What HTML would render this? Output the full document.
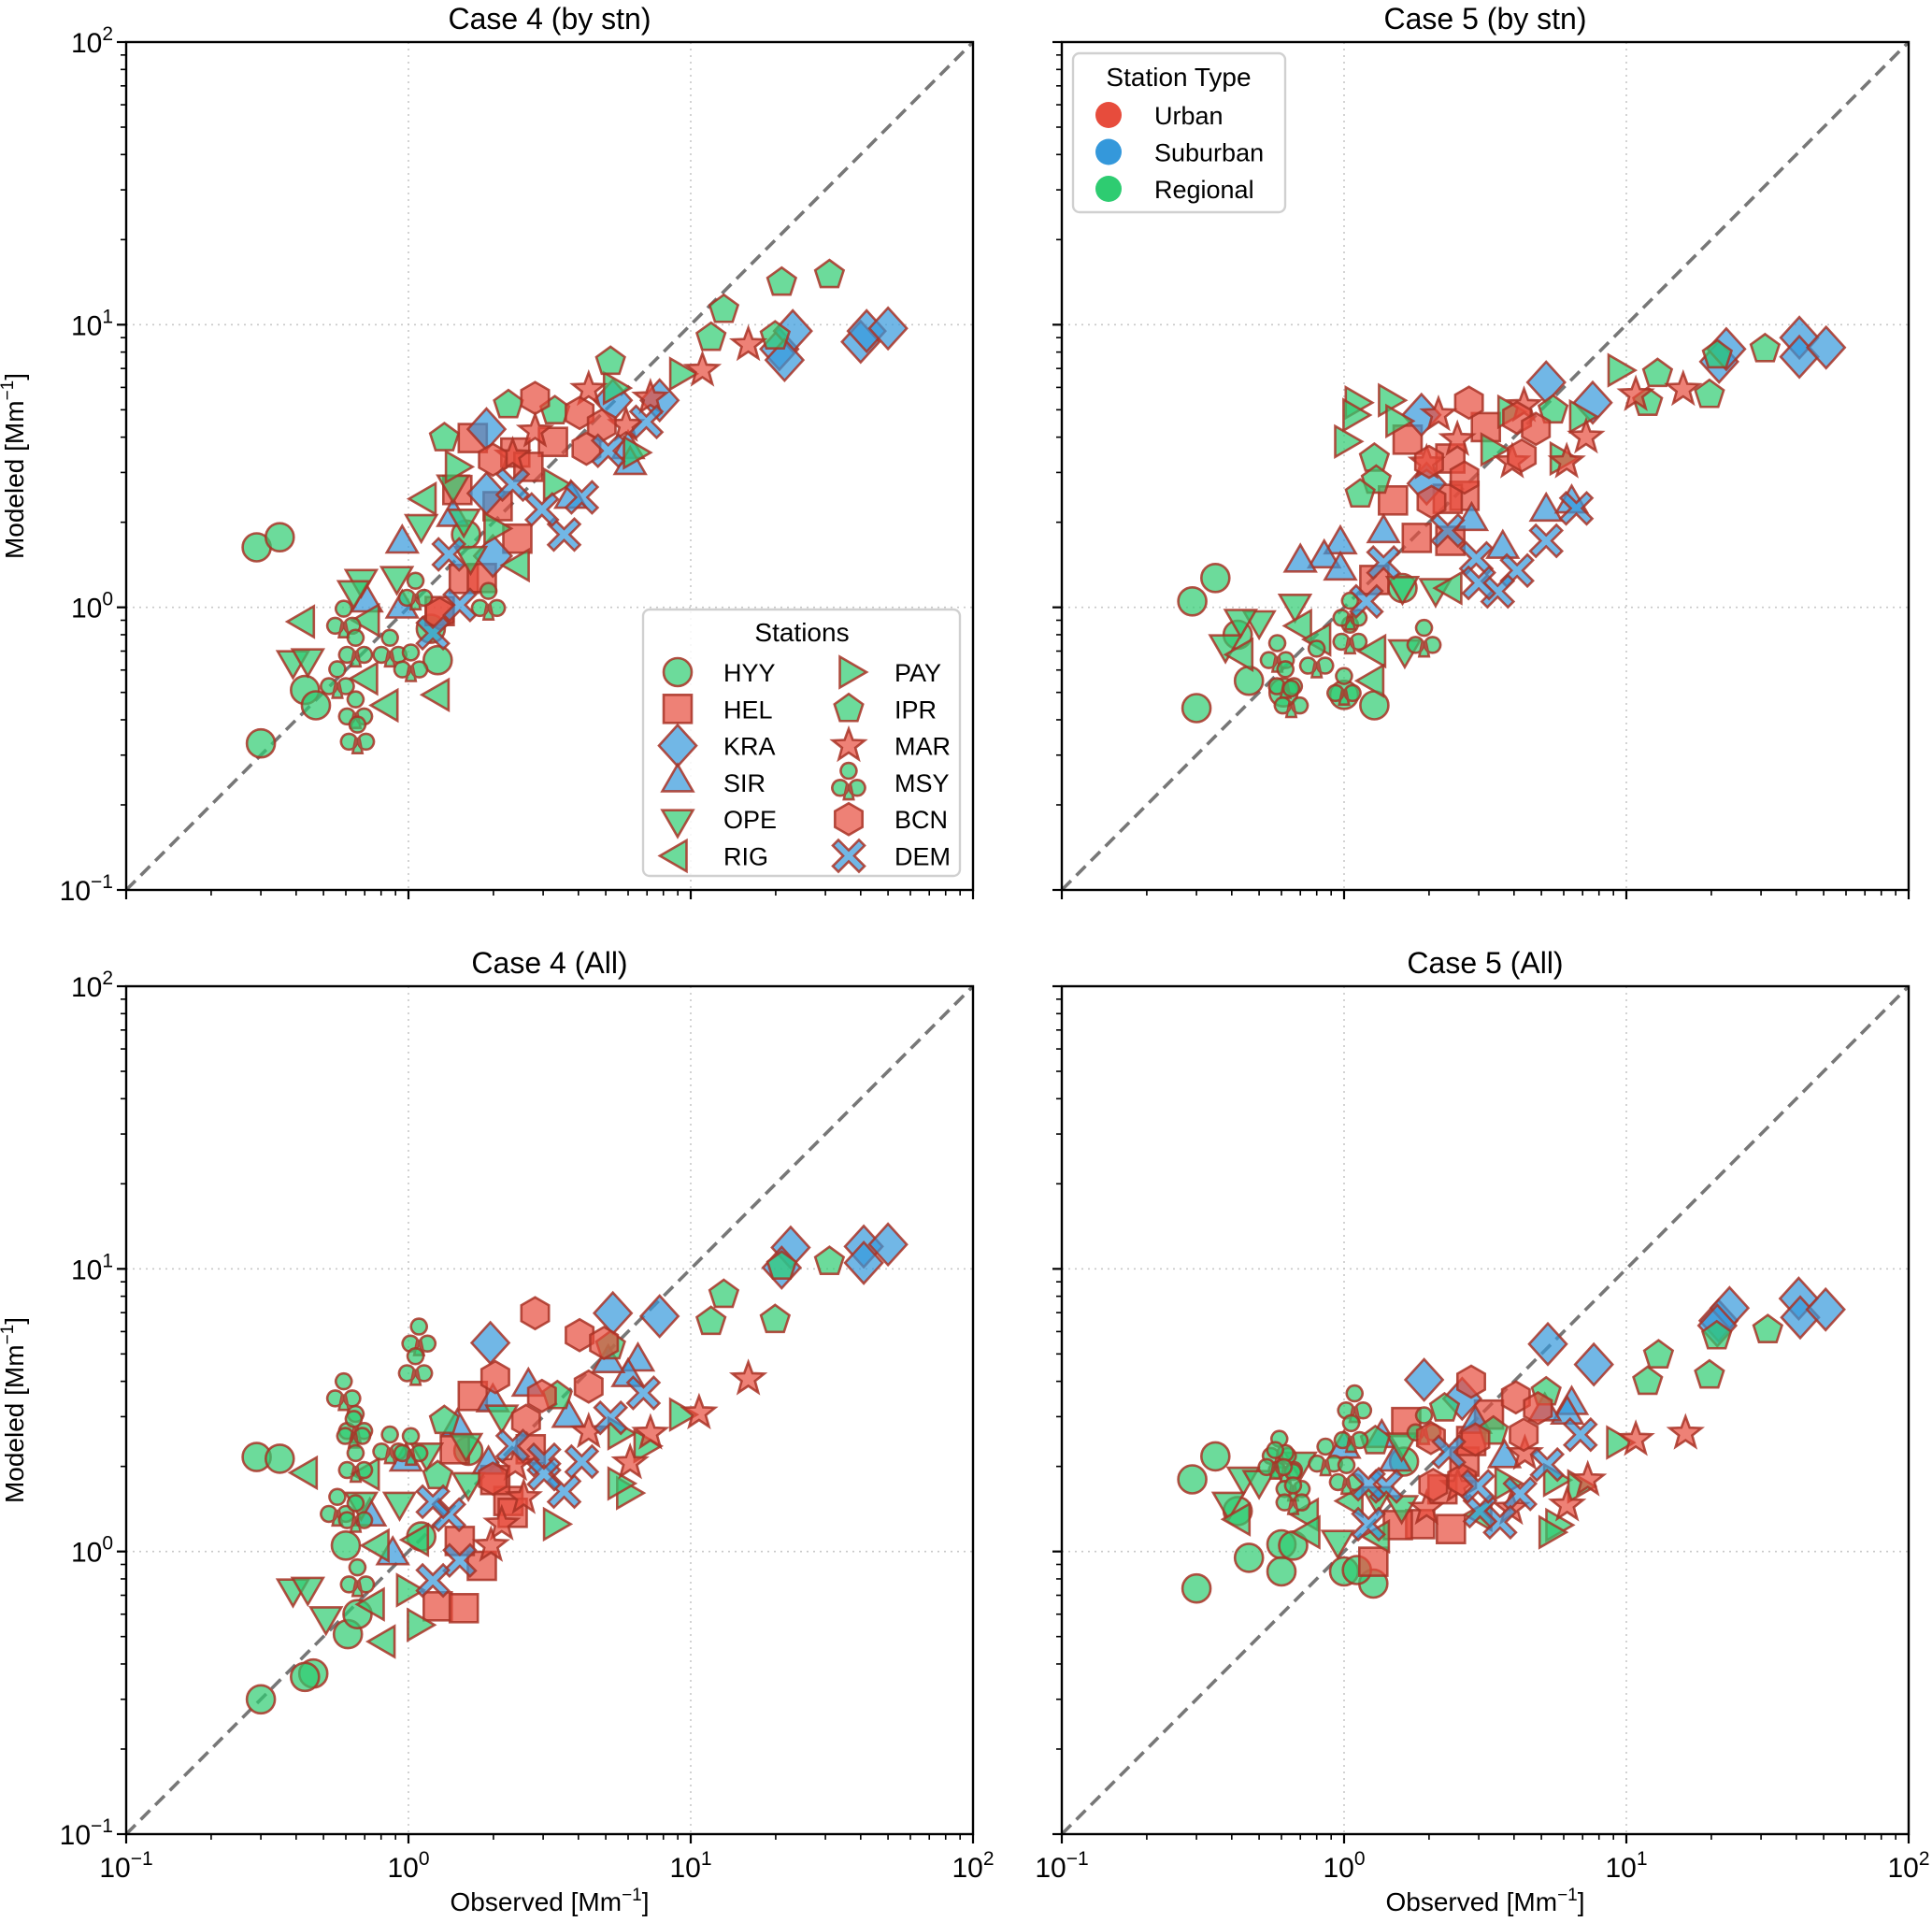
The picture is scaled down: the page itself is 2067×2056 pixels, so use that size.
<!DOCTYPE html>
<html><head><meta charset="utf-8"><title>Modeled vs Observed</title>
<style>
html,body{margin:0;padding:0;background:#fff;}
svg{display:block;font-family:"Liberation Sans","DejaVu Sans",sans-serif;}
</style></head>
<body>
<svg id="fig" width="2067" height="2056" viewBox="0 0 2067 2056" xmlns="http://www.w3.org/2000/svg"></svg>
<script>
// ---- data ----
const stationNames = ["HYY","HEL","KRA","SIR","OPE","RIG","PAY","IPR","MAR","MSY","BCN","DEM"];
const stationTypes = ["Regional","Urban","Suburban","Suburban","Regional","Regional","Regional","Regional","Urban","Regional","Urban","Suburban"];
const stationShapes = ["circle","square","diamond","triup","tridown","trileft","triright","pentagon","star","club","hexagon","x"];
const typeNames = ["Urban","Suburban","Regional"];
const panelTitles = ["Case 4 (by stn)","Case 5 (by stn)","Case 4 (All)","Case 5 (All)"];
const tickExponents = [-1,0,1,2];

const case4StnPoints = [
["HYY",0.29,1.63],["HYY",0.35,1.77],["HYY",0.30,0.33],["HYY",0.43,0.51],["HYY",0.47,0.45],["HYY",1.27,0.65],["HYY",1.6,1.81],["HYY",1.2,0.84],
["HEL",1.69,3.97],["HEL",3.25,3.85],["HEL",2.39,3.53],["HEL",2.43,1.75],["HEL",1.57,1.26],["HEL",1.82,1.27],["HEL",1.29,0.97],["HEL",2.07,2.28],["HEL",1.49,2.6],["HEL",2.66,3.14],
["KRA",1.89,4.27],["KRA",1.99,1.52],["KRA",1.89,2.53],["KRA",5.3,5.4],["KRA",7.76,5.4],["KRA",20.6,8.2],["KRA",23,9.5],["KRA",21.5,7.5],["KRA",40,8.7],["KRA",42,9.5],["KRA",50,9.7],
["SIR",0.71,1.04],["SIR",0.95,1.68],["SIR",6.0,3.63],["SIR",6.1,3.19],["SIR",1.44,2.09],["SIR",3.76,2.42],["SIR",0.95,0.99],
["OPE",0.68,1.26],["OPE",0.64,1.15],["OPE",0.39,0.65],["OPE",0.44,0.66],["OPE",0.91,1.29],["OPE",1.11,1.97],["OPE",1.57,2.06],["OPE",1.66,1.52],["OPE",1.44,2.72],
["RIG",0.43,0.89],["RIG",0.73,0.9],["RIG",0.85,0.45],["RIG",1.29,0.49],["RIG",2.48,1.41],["RIG",1.16,2.42],["RIG",0.72,0.56],
["PAY",1.46,3.14],["PAY",9.1,6.7],["PAY",3.25,2.72],["PAY",5.3,5.97],["PAY",6.24,3.53],["PAY",2.0,1.9],
["IPR",21,14.1],["IPR",31,15],["IPR",13.1,11.3],["IPR",11.8,9.0],["IPR",19.9,9.1],["IPR",5.2,7.4],["IPR",2.26,5.2],["IPR",3.3,4.95],["IPR",1.34,3.97],
["MAR",16,8.5],["MAR",11,6.9],["MAR",7.2,5.5],["MAR",4.35,5.9],["MAR",2.81,4.2],["MAR",2.34,3.43],["MAR",5.9,4.4],
["MSY",0.59,0.9],["MSY",0.65,0.71],["MSY",0.65,0.43],["MSY",0.66,0.35],["MSY",0.86,0.71],["MSY",1.02,0.63],["MSY",1.92,1.04],["MSY",1.06,1.13],["MSY",0.56,0.55],
["BCN",2.81,5.5],["BCN",4.04,4.87],["BCN",4.84,4.4],["BCN",4.27,3.64],["BCN",1.99,3.33],["BCN",1.29,0.95],
["DEM",6.96,4.53],["DEM",5.1,3.58],["DEM",4.11,2.45],["DEM",3.56,1.81],["DEM",2.97,2.22],["DEM",2.34,2.72],["DEM",1.39,1.54],["DEM",1.52,1.02],["DEM",1.22,0.81]
];
const case5StnPoints = [
["HYY",0.35,1.27],["HYY",0.29,1.05],["HYY",0.30,0.44],["HYY",0.46,0.55],["HYY",0.42,0.80],["HYY",0.61,0.50],["HYY",1.0,0.49],["HYY",1.28,0.45],["HYY",1.61,1.17],
["HEL",1.68,3.92],["HEL",1.49,2.39],["HEL",2.67,2.48],["HEL",1.81,1.76],["HEL",2.38,1.72],["HEL",3.18,4.34],["HEL",2.38,3.36],["HEL",1.28,1.25],["HEL",2.33,2.42],
["KRA",5.2,6.25],["KRA",7.6,5.3],["KRA",21.3,7.4],["KRA",22.6,8.2],["KRA",41,9.0],["KRA",41,7.7],["KRA",51,8.3],["KRA",1.88,4.8],["KRA",1.96,2.74],
["SIR",0.97,1.67],["SIR",0.85,1.49],["SIR",0.7,1.44],["SIR",1.38,1.83],["SIR",2.83,2.02],["SIR",3.65,1.61],["SIR",5.2,2.18],["SIR",6.4,2.33],["SIR",0.97,1.35],
["OPE",0.67,1.03],["OPE",0.5,0.9],["OPE",0.43,0.91],["OPE",0.38,0.74],["OPE",1.64,0.71],["OPE",2.11,1.17],["OPE",1.61,1.19],
["RIG",0.71,0.86],["RIG",0.44,0.68],["RIG",1.3,0.70],["RIG",1.28,0.55],["RIG",0.83,0.77],["RIG",2.42,1.17],
["PAY",1.09,5.3],["PAY",1.43,5.4],["PAY",1.07,4.79],["PAY",1.0,3.86],["PAY",1.52,4.56],["PAY",9.3,6.9],["PAY",3.79,4.92],["PAY",6.8,4.73],["PAY",5.8,3.36],["PAY",3.3,3.62],
["IPR",19.7,5.65],["IPR",12.9,6.7],["IPR",11.9,5.3],["IPR",31,8.2],["IPR",21,7.8],["IPR",1.28,3.36],["IPR",1.3,2.81],["IPR",1.14,2.51],["IPR",5.5,4.98],
["MAR",15.9,5.9],["MAR",10.8,5.65],["MAR",7.2,4.0],["MAR",6.15,3.27],["MAR",2.16,4.8],["MAR",4.34,5.17],["MAR",2.52,3.92],["MAR",1.96,3.24],["MAR",3.94,3.27],
["MSY",0.58,0.68],["MSY",0.62,0.55],["MSY",0.65,0.47],["MSY",0.8,0.65],["MSY",1.0,0.52],["MSY",1.92,0.77],["MSY",1.05,0.79],["MSY",1.05,0.96],
["BCN",2.77,5.3],["BCN",4.1,4.68],["BCN",4.78,4.28],["BCN",4.26,3.44],["BCN",2.0,3.27],["BCN",2.67,2.88],["BCN",2.04,2.36],
["DEM",6.65,2.24],["DEM",5.2,1.72],["DEM",4.1,1.35],["DEM",3.5,1.14],["DEM",2.94,1.49],["DEM",3.0,1.22],["DEM",2.33,1.87],["DEM",1.38,1.44],["DEM",1.2,1.05]
];
const case4AllPoints = [
["HYY",0.29,2.16],["HYY",0.35,2.13],["HYY",0.6,1.05],["HYY",0.61,0.51],["HYY",0.66,0.6],["HYY",0.46,0.37],["HYY",0.43,0.36],["HYY",1.11,1.13],["HYY",1.63,2.27],["HYY",0.30,0.30],
["HEL",1.69,3.55],["HEL",1.27,0.64],["HEL",1.57,0.63],["HEL",1.82,0.89],["HEL",1.52,1.09],["HEL",2.26,1.51],["HEL",2.34,1.37],["HEL",1.46,2.3],["HEL",2.71,2.3],["HEL",2.03,1.79],
["KRA",1.95,5.47],["KRA",5.3,6.97],["KRA",7.76,6.8],["KRA",22.6,11.9],["KRA",21,10.1],["KRA",41,12],["KRA",41,10.5],["KRA",50,12.2],
["SIR",6.5,4.7],["SIR",6.0,4.14],["SIR",5.1,4.64],["SIR",3.69,2.97],["SIR",2.66,3.83],["SIR",1.99,3.37],["SIR",0.98,2.08],["SIR",0.73,1.33],["SIR",0.88,0.97],["SIR",1.92,2.03],["SIR",1.49,2.75],
["OPE",0.39,0.74],["OPE",0.44,0.75],["OPE",0.51,0.59],["OPE",0.68,1.5],["OPE",0.93,1.5],["OPE",1.16,2.24],["OPE",1.6,2.42],["OPE",1.63,1.76],["OPE",2.14,3.05],
["RIG",0.44,1.9],["RIG",0.73,1.88],["RIG",0.83,0.48],["RIG",0.76,0.65],["RIG",0.79,1.05],["RIG",1.09,1.1],
["PAY",9.1,3.05],["PAY",3.25,1.25],["PAY",5.9,1.61],["PAY",5.5,1.74],["PAY",5.5,2.62],["PAY",6.8,2.36],["PAY",1.07,0.55],["PAY",0.98,0.73],
["IPR",13.1,8.1],["IPR",11.8,6.5],["IPR",19.9,6.6],["IPR",21,10.2],["IPR",31,10.6],["IPR",5.2,5.33],["IPR",1.34,2.9],["IPR",1.27,1.85],["IPR",3.37,3.55],
["MAR",16,4.08],["MAR",10.7,3.09],["MAR",7.2,2.62],["MAR",6.1,2.06],["MAR",4.35,2.65],["MAR",2.56,1.55],["MAR",2.14,1.25],["MAR",1.96,1.05],["MAR",2.39,2.03],
["MSY",1.09,5.69],["MSY",1.06,4.47],["MSY",0.59,3.64],["MSY",0.65,2.79],["MSY",0.64,2.68],["MSY",0.86,2.36],["MSY",1.02,2.33],["MSY",0.65,2.03],["MSY",0.56,1.42],["MSY",0.65,1.35],["MSY",0.66,0.8],
["BCN",2.81,6.97],["BCN",4.04,5.83],["BCN",4.93,5.47],["BCN",4.35,3.83],["BCN",2.03,4.14],["BCN",2.97,3.55],["BCN",2.61,2.9],["BCN",1.99,1.81],
["DEM",6.8,3.64],["DEM",5.2,2.97],["DEM",4.11,2.08],["DEM",3.56,1.63],["DEM",3.02,2.11],["DEM",3.02,1.88],["DEM",2.34,2.36],["DEM",1.39,1.35],["DEM",1.22,1.5],["DEM",1.52,0.93],["DEM",1.22,0.79]
];
const case5AllPoints = [
["HYY",0.35,2.17],["HYY",0.29,1.8],["HYY",0.30,0.74],["HYY",0.46,0.95],["HYY",0.6,1.06],["HYY",0.66,1.05],["HYY",0.6,0.85],["HYY",1.0,0.85],["HYY",1.27,0.77],["HYY",1.11,0.86],["HYY",0.42,1.39],["HYY",1.63,2.08],
["HEL",1.66,2.87],["HEL",1.86,1.25],["HEL",2.39,1.2],["HEL",1.55,1.24],["HEL",1.27,0.92],["HEL",3.26,3.05],["HEL",2.23,1.66],["HEL",2.67,2.08],["HEL",2.82,2.46],
["KRA",1.92,4.05],["KRA",2.62,3.47],["KRA",5.27,5.42],["KRA",7.67,4.59],["KRA",21.2,6.56],["KRA",23.2,7.27],["KRA",21,6.3],["KRA",40.8,7.85],["KRA",41.3,6.73],["KRA",50.8,7.18],
["SIR",6.4,3.3],["SIR",6.17,3.05],["SIR",5.14,3.13],["SIR",3.7,2.14],["SIR",2.92,2.83],["SIR",1.36,2.52],["SIR",1.0,2.31],["SIR",1.52,2.08],
["OPE",0.44,1.84],["OPE",0.5,1.79],["OPE",0.39,1.5],["OPE",0.7,2.08],["OPE",0.95,1.1],["OPE",1.6,1.46],["OPE",1.6,2.43],["OPE",1.31,1.57],
["RIG",0.43,1.3],["RIG",0.75,1.35],["RIG",0.76,1.17],["RIG",1.08,1.51],["RIG",1.34,1.13],["RIG",3.09,1.35],
["PAY",9.2,2.43],["PAY",3.7,1.74],["PAY",5.5,1.79],["PAY",6.7,1.7],["PAY",5.6,1.24],["PAY",5.3,1.17],
["IPR",13,4.95],["IPR",11.9,3.99],["IPR",19.7,4.2],["IPR",20.9,5.78],["IPR",31.7,6.08],["IPR",5.2,3.66],["IPR",2.27,3.21],["IPR",1.29,2.46],["IPR",3.38,2.66],
["MAR",16.2,2.62],["MAR",10.8,2.49],["MAR",7.3,1.79],["MAR",6.17,1.46],["MAR",4.37,2.22],["MAR",3.91,1.42],["MAR",1.96,1.42],["MAR",2.53,1.7],
["MSY",1.09,3.3],["MSY",1.06,2.59],["MSY",0.59,2.28],["MSY",0.62,2.03],["MSY",0.66,1.74],["MSY",0.66,1.56],["MSY",0.86,2.14],["MSY",1.02,1.84],["MSY",0.57,2.08],["MSY",1.92,2.76],
["BCN",2.82,3.99],["BCN",4.06,3.51],["BCN",4.86,3.21],["BCN",4.33,2.59],["BCN",2.03,2.52],["BCN",2.92,2.49],["BCN",2.07,1.72],["BCN",2.62,1.79],
["DEM",6.87,2.59],["DEM",5.24,2.03],["DEM",4.2,1.6],["DEM",3.57,1.27],["DEM",3.03,1.39],["DEM",2.98,1.7],["DEM",2.35,2.25],["DEM",1.41,1.7],["DEM",1.22,1.25],["DEM",1.22,1.73]
];
const panelPoints = [case4StnPoints, case5StnPoints, case4AllPoints, case5AllPoints];

// ---- layout ----
const NS = "http://www.w3.org/2000/svg";
const svg = document.getElementById("fig");
const panels = [{l:135,t:45},{l:1136,t:45},{l:135,t:1055},{l:1136,t:1055}];
const PW = 906, PH = 907, LOGMIN = -1, LOGMAX = 2;
const fills = {Urban:"#e74c3c", Suburban:"#3498db", Regional:"#2ecc71"};
const EDGE = "#a93226";

function mk(tag, attrs, parent){
  const e = document.createElementNS(NS, tag);
  for (const k in attrs) e.setAttribute(k, attrs[k]);
  if (parent) parent.appendChild(e);
  return e;
}
function xScale(p, v){ return p.l + (Math.log10(v) - LOGMIN) / (LOGMAX - LOGMIN) * PW; }
function yScale(p, v){ return p.t + PH - (Math.log10(v) - LOGMIN) / (LOGMAX - LOGMIN) * PH; }

function poly(n, r, rot){
  const pts = [];
  for (let i = 0; i < n; i++){ const a = rot + i * 2 * Math.PI / n; pts.push((r*Math.cos(a)).toFixed(2)+","+(r*Math.sin(a)).toFixed(2)); }
  return pts.join(" ");
}
function starPts(ro, ri){
  const pts = [];
  for (let i = 0; i < 10; i++){ const r = i%2 ? ri : ro; const a = -Math.PI/2 + i*Math.PI/5; pts.push((r*Math.cos(a)).toFixed(2)+","+(r*Math.sin(a)).toFixed(2)); }
  return pts.join(" ");
}
function drawMarker(g, shape, cx, cy, fill, k){
  const kk = shape === "club" ? k * 1.3 : k;
  const grp = mk("g", {transform:`translate(${cx.toFixed(1)},${cy.toFixed(1)}) scale(${kk})`, fill:fill, "fill-opacity":"0.7", stroke:EDGE, "stroke-opacity":"0.85", "stroke-width":"2.6", "stroke-linejoin":"miter"}, g);
  if (shape === "circle") mk("circle", {r:15}, grp);
  else if (shape === "square") mk("rect", {x:-15, y:-15, width:30, height:30}, grp);
  else if (shape === "diamond") mk("polygon", {points:"0,-22 20,0 0,22 -20,0"}, grp);
  else if (shape === "triup") mk("polygon", {points:poly(3,19,-Math.PI/2)}, grp);
  else if (shape === "tridown") mk("polygon", {points:poly(3,19,Math.PI/2)}, grp);
  else if (shape === "trileft") mk("polygon", {points:poly(3,19,Math.PI)}, grp);
  else if (shape === "triright") mk("polygon", {points:poly(3,19,0)}, grp);
  else if (shape === "pentagon") mk("polygon", {points:poly(5,16,-Math.PI/2)}, grp);
  else if (shape === "hexagon") mk("polygon", {points:poly(6,17,-Math.PI/2)}, grp);
  else if (shape === "star") mk("polygon", {points:starPts(18,7.5)}, grp);
  else if (shape === "x") mk("polygon", {points:"-11,-17 0,-6 11,-17 17,-11 6,0 17,11 11,17 0,6 -11,17 -17,11 -6,0 -17,-11"}, grp);
  else if (shape === "club") mk("path", {d:"M0,-16 a6.5,6.5 0 1 1 -0.1,0 Z M-7,-2 a6.5,6.5 0 1 1 -0.1,0 Z M7,-2 a6.5,6.5 0 1 1 -0.1,0 Z M-1.5,2 L-4,14 L4,14 L1.5,2 Z", "stroke-width":"2.0"}, grp);
  return grp;
}
function supText(parent, x, y, exp, anchor, name){
  const t = mk("text", {x:x, y:y, "font-size":"30", "text-anchor":anchor, fill:"#000"}, parent);
  
  
  t.appendChild(document.createTextNode("10"));
  const s = mk("tspan", {dy:"-13", "font-size":"21"}, t);
  s.textContent = exp < 0 ? "\u2212" + Math.abs(exp) : String(exp);
  return t;
}

panels.forEach((p, pi) => {
  const g = mk("g", {}, svg);
  
  
  tickExponents.forEach(e => {
    const v = Math.pow(10, e);
    const gx = xScale(p, v), gy = yScale(p, v);
    const lx = mk("line", {x1:gx, y1:p.t, x2:gx, y2:p.t+PH, stroke:"#c8c8c8", "stroke-width":"1.6", "stroke-dasharray":"2,5"}, g);
    
    
    const ly = mk("line", {x1:p.l, y1:gy, x2:p.l+PW, y2:gy, stroke:"#c8c8c8", "stroke-width":"1.6", "stroke-dasharray":"2,5"}, g);
    
    
  });
  const d = mk("line", {x1:xScale(p,0.1), y1:yScale(p,0.1), x2:xScale(p,100), y2:yScale(p,100), stroke:"#777", "stroke-width":"3.6", "stroke-dasharray":"14,8"}, g);
  
  
  const pts = panelPoints[pi];
  stationNames.forEach((sn, si) => {
    const sg = mk("g", {}, g);
    
    
    pts.filter(r => r[0] === sn).forEach(r => {
      const m = drawMarker(sg, stationShapes[si], xScale(p, r[1]), yScale(p, r[2]), fills[stationTypes[si]], 1);
      
      
    });
  });
  const fr = mk("rect", {x:p.l, y:p.t, width:PW, height:PH, fill:"none", stroke:"#000", "stroke-width":"2.4"}, g);
  
  
  for (let e = -1; e <= 2; e++){
    for (let m = 1; m <= 9; m++){
      if (e === 2 && m > 1) break;
      const v = m * Math.pow(10, e);
      const len = m === 1 ? 10 : 6;
      const tx = xScale(p, v), ty = yScale(p, v);
      const t1 = mk("line", {x1:tx, y1:p.t+PH, x2:tx, y2:p.t+PH+len, stroke:"#000", "stroke-width": m===1 ? "2.2" : "1.6"}, g);
      
      
      const t2 = mk("line", {x1:p.l-len, y1:ty, x2:p.l, y2:ty, stroke:"#000", "stroke-width": m===1 ? "2.2" : "1.6"}, g);
      
      
    }
  }
  tickExponents.forEach(e => {
    const v = Math.pow(10, e);
    if (pi === 0 || pi === 2) supText(g, p.l - 14, yScale(p, v) + 11, e, "end", "y-tick-label");
    if (pi >= 2) supText(g, xScale(p, v), p.t + PH + 46, e, "middle", "x-tick-label");
  });
  const ti = mk("text", {x:p.l+PW/2, y:p.t-14, "font-size":"32", "text-anchor":"middle", fill:"#000"}, g);
  
  
  ti.textContent = panelTitles[pi];
  if (pi >= 2){
    const xl = mk("text", {x:p.l+PW/2, y:p.t+PH+82, "font-size":"28", "text-anchor":"middle", fill:"#000"}, g);
    
    
    xl.appendChild(document.createTextNode("Observed [Mm"));
    const s = mk("tspan", {dy:"-11", "font-size":"19"}, xl); s.textContent = "\u22121";
    const s2 = mk("tspan", {dy:"11"}, xl); s2.textContent = "]";
  }
  if (pi === 0 || pi === 2){
    const yl = mk("text", {x:0, y:0, "font-size":"28", "text-anchor":"middle", fill:"#000", transform:`translate(25,${p.t+PH/2}) rotate(-90)`}, g);
    
    
    yl.appendChild(document.createTextNode("Modeled [Mm"));
    const s = mk("tspan", {dy:"-11", "font-size":"19"}, yl); s.textContent = "\u22121";
    const s2 = mk("tspan", {dy:"11"}, yl); s2.textContent = "]";
  }
});

(function(){
  const lg = mk("g", {}, svg);
  
  
  mk("rect", {x:688, y:652, width:339, height:285, rx:7, fill:"#fff", "fill-opacity":"0.85", stroke:"#d0d0d0", "stroke-width":"2.4"}, lg);
  const tt = mk("text", {x:858, y:686, "font-size":"28", "text-anchor":"middle", fill:"#000"}, lg);
  tt.textContent = "Stations";
  stationNames.forEach((sn, si) => {
    const col = si < 6 ? 0 : 1, row = si % 6;
    const mx = col ? 908 : 725, ty = 719 + row * 39.3;
    const eg = mk("g", {}, lg);
    
    
    drawMarker(eg, stationShapes[si], mx, ty, fills[stationTypes[si]], 1);
    const t = mk("text", {x: col ? 957 : 774, y: ty + 10, "font-size":"27", fill:"#000"}, eg);
    t.textContent = sn;
  });
})();

(function(){
  const lg = mk("g", {}, svg);
  
  
  mk("rect", {x:1148, y:57, width:227, height:170, rx:7, fill:"#fff", "fill-opacity":"0.85", stroke:"#d0d0d0", "stroke-width":"2.4"}, lg);
  const tt = mk("text", {x:1261, y:92, "font-size":"28", "text-anchor":"middle", fill:"#000"}, lg);
  tt.textContent = "Station Type";
  typeNames.forEach((tn, i) => {
    const ty = 123 + i * 39.5;
    const eg = mk("g", {}, lg);
    
    
    mk("circle", {cx:1186, cy:ty, r:14, fill:fills[tn]}, eg);
    const t = mk("text", {x:1235, y:ty + 10, "font-size":"27", fill:"#000"}, eg);
    t.textContent = tn;
  });
})();
</script>
</body></html>
